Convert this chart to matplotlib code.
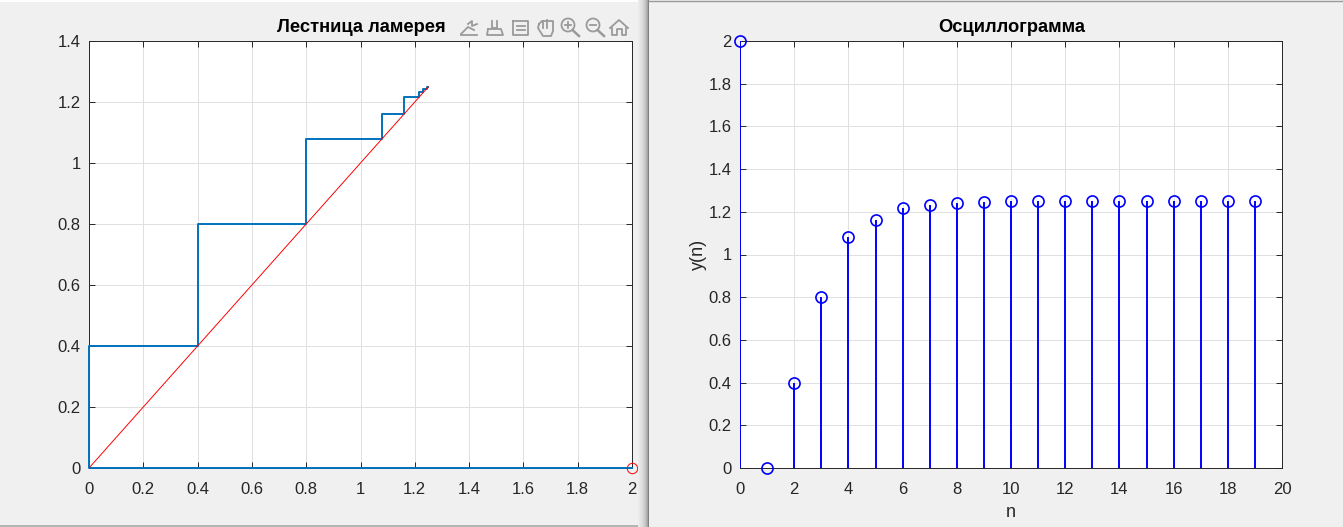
import matplotlib
matplotlib.use("Agg")
import numpy as np
import matplotlib.pyplot as plt
from matplotlib.patches import Circle, Rectangle
from matplotlib.lines import Line2D
from matplotlib.transforms import Affine2D

plt.rcParams['font.family'] = ['Liberation Sans', 'DejaVu Sans']

W = 1343
H = 527

n = list(range(20))
y = [2, 0, 0.4, 0.8, 1.08, 1.16, 1.216, 1.232, 1.2432, 1.2464, 1.24864, 1.24928,
     1.2497, 1.2499, 1.2499, 1.2499, 1.25, 1.25, 1.25, 1.25]

diag_x = [0, 1.25]
ticks_left_x = [0, 0.2, 0.4, 0.6, 0.8, 1, 1.2, 1.4, 1.6, 1.8, 2]
ticks_left_y = [0, 0.2, 0.4, 0.6, 0.8, 1, 1.2, 1.4]
ticks_right_x = [0, 2, 4, 6, 8, 10, 12, 14, 16, 18, 20]
ticks_right_y = [0, 0.2, 0.4, 0.6, 0.8, 1, 1.2, 1.4, 1.6, 1.8, 2]

# cobweb path: each value goes across to the diagonal, then up to the next one
stair_x = [y[0]]
stair_y = [y[1]]
for i in range(1, len(y) - 1):
    stair_x.append(y[i])
    stair_y.append(y[i])
    stair_x.append(y[i])
    stair_y.append(y[i + 1])

fig = plt.figure(figsize=(W / 100, H / 100), dpi=100, facecolor='#f0f0f0')


def make_axes(x0, x1, top, bottom):
    ax = fig.add_axes([x0 / W, 1 - bottom / H, (x1 - x0) / W, (bottom - top) / H])
    ax.set_axisbelow(True)
    ax.grid(True, color='#e0e0e0', linewidth=0.7)
    ax.tick_params(direction='in', length=4, width=0.7, color='#262626', top=True, right=True,
                   labelsize=12, labelcolor='#262626')
    ax.tick_params(axis='x', pad=10)
    ax.tick_params(axis='y', pad=6)
    for s in ax.spines.values():
        s.set_color('#262626')
        s.set_linewidth(0.7)
    return ax


def fmt(v):
    return f'{v:g}'


# left plot
ax1 = make_axes(89, 632, 41, 468)
ax1.plot(stair_x, stair_y, color='#0072bd', linewidth=1.4, clip_on=False, zorder=3)
ax1.plot([y[0]], [y[1]], 'o', mfc='none', mec='red', ms=7.5, mew=0.7, clip_on=False, zorder=4)
ax1.plot(diag_x, diag_x, color='red', linewidth=0.7, zorder=4)
ax1.set_xlim(0, 2)
ax1.set_ylim(0, 1.4)
ax1.set_xticks(ticks_left_x, [fmt(v) for v in ticks_left_x])
ax1.set_yticks(ticks_left_y, [fmt(v) for v in ticks_left_y])
fig.text(361 / W, 1 - 27 / H, 'Лестница ламерея', fontsize=13.2, fontweight='bold', color='black',
         ha='center', va='center')

# right plot
ax2 = make_axes(740, 1282, 41, 468)
ax2.vlines(n, 0, y, color='blue', linewidth=1.4, zorder=3)
ax2.plot(n, y, 'o', mfc='none', mec='blue', ms=8, mew=1.2, clip_on=False, zorder=4)
ax2.set_xlim(0, 20)
ax2.set_ylim(0, 2)
ax2.set_xticks(ticks_right_x, [fmt(v) for v in ticks_right_x])
ax2.set_yticks(ticks_right_y, [fmt(v) for v in ticks_right_y])
ax2.set_xlabel('n', fontsize=13, color='#262626', labelpad=5)
ax2.set_ylabel('y(n)', fontsize=13, color='#262626', labelpad=1)
fig.text(1012 / W, 1 - 27 / H, 'Осциллограмма', fontsize=13.2, fontweight='bold', color='black',
         ha='center', va='center')


# window edge between the two figures and the toolbar are only decoration
pix = Affine2D().scale(fig.dpi * fig.get_figwidth() / W, fig.dpi * fig.get_figheight() / H)


def px(xs, ys):
    return [v / W for v in xs], [1 - v / H for v in ys]


def line(xs, ys, color='#9a9a9a', lw=1.3):
    a, b = px(xs, ys)
    fig.add_artist(Line2D(a, b, color=color, linewidth=lw, transform=fig.transFigure))


def ring(cx, cy, r):
    fig.add_artist(Circle((cx, H - cy), r, fill=False, ec='#9a9a9a', lw=1.3, transform=pix))


# shadow and right panel
line([0, 648], [525.5, 525.5], color='#a8a8a8', lw=1.2)
line([0, 637], [0.5, 0.5], color='#ffffff', lw=1.4)
line([649, W], [0.5, 0.5], color='#9a9a9a', lw=1.0)
shades = ['#ececec', '#e8e8e8', '#e4e4e4', '#e0e0e0', '#dadada', '#d4d4d4',
          '#cccccc', '#c2c2c2', '#b4b4b4', '#a4a4a4', '#808080']
for i, c in enumerate(shades):
    line([637.5 + i, 637.5 + i], [0, H], color=c, lw=0.72)

# edit pointer
line([461, 468, 474], [34, 27, 30])
line([461, 477], [35, 35])
line([468, 472, 472, 477], [24, 21, 26, 24])
# brush
line([492, 492, 497, 497], [21, 28, 28, 21])
line([488, 501, 503, 487, 488], [29, 29, 35, 35, 29])
# legend box
line([513, 528, 528, 513, 513], [21, 21, 35, 35, 21])
line([517, 525], [26, 26])
line([517, 525], [30, 30])
# hand
line([539, 538, 543, 551, 553, 553, 549, 542, 539], [24, 28, 36, 36, 31, 21, 21, 21, 24])
line([543, 543], [21, 28])
line([547, 547], [20, 28])
# zoom in
ring(568, 25, 6.5)
line([572.5, 579], [30, 36], lw=1.8)
line([565, 571], [25, 25])
line([568, 568], [22, 28])
# zoom out
ring(593, 25, 6.5)
line([597.5, 604], [30, 36], lw=1.8)
line([590, 596], [25, 25])
# home
line([610, 619, 628], [28, 20, 28])
line([612, 612, 617, 617, 622, 622, 626, 626], [28, 35, 35, 29, 29, 35, 35, 28])

fig.savefig('out.png', dpi=100, facecolor=fig.get_facecolor())
